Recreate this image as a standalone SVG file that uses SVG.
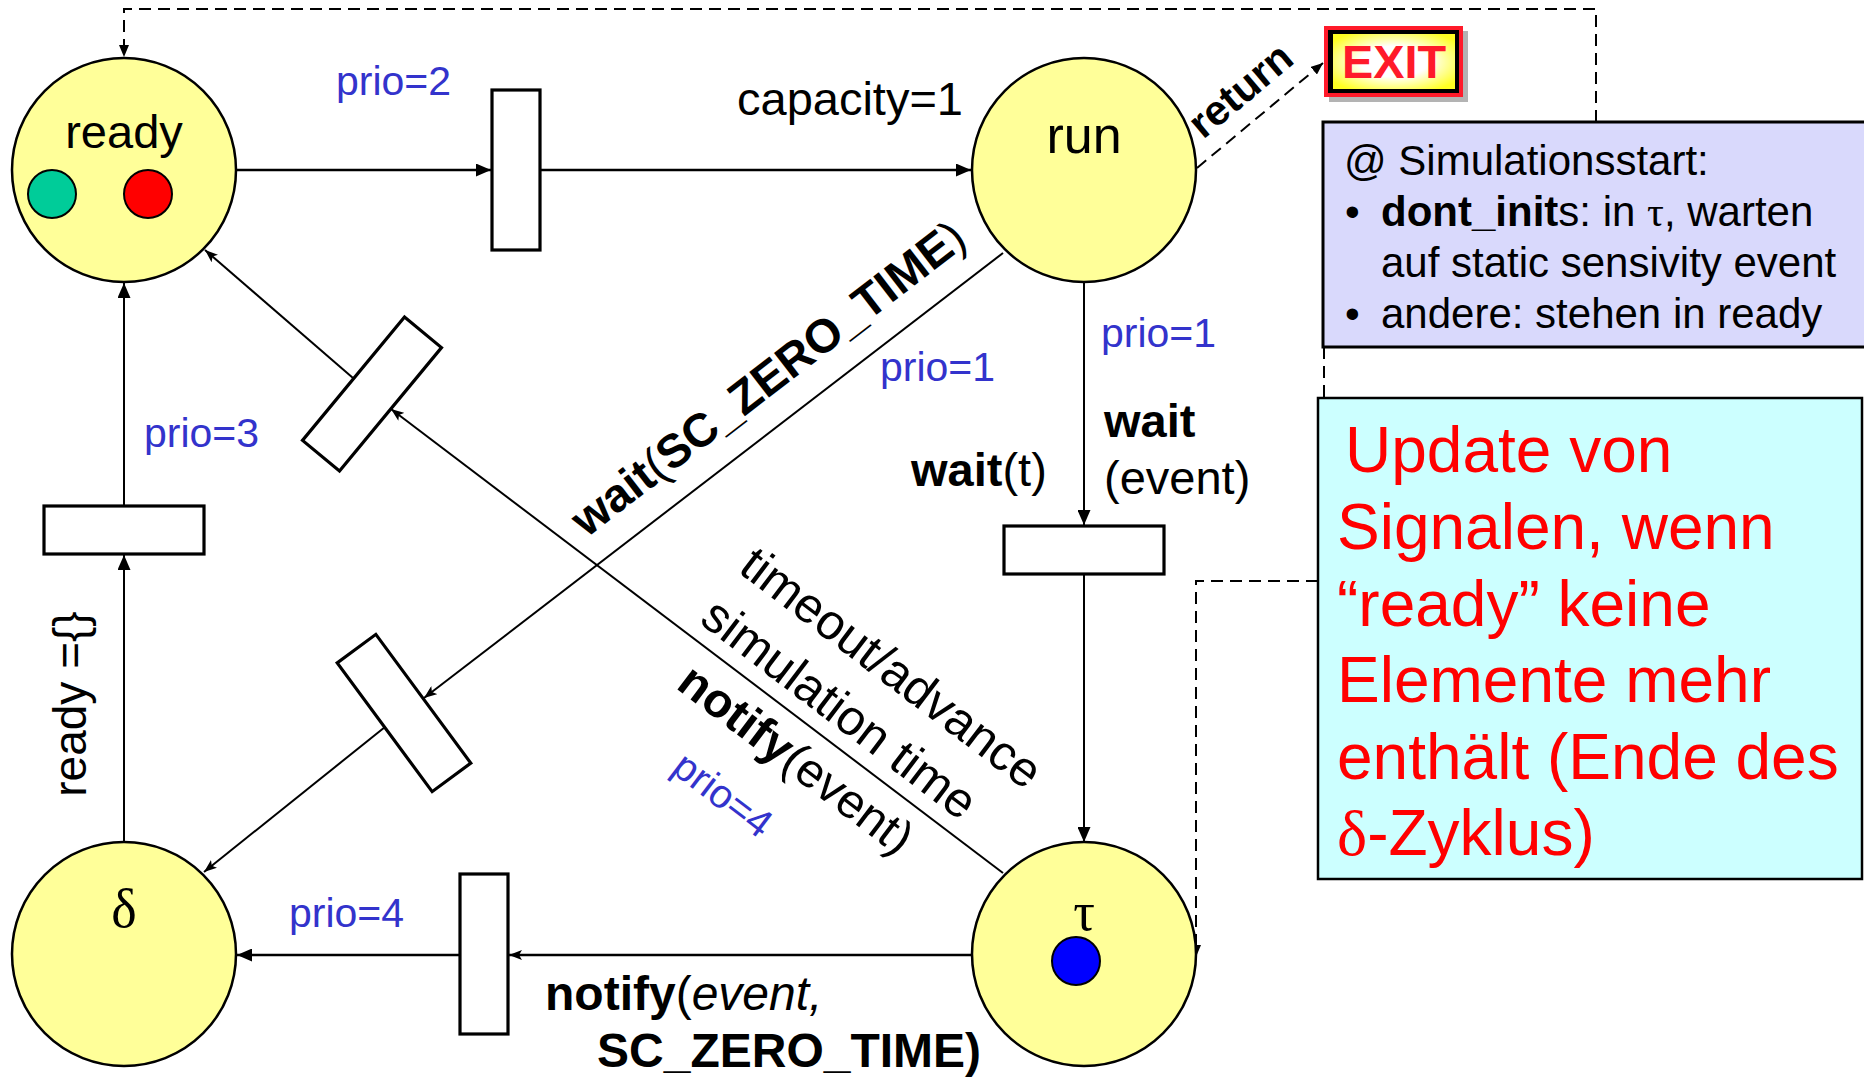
<svg xmlns="http://www.w3.org/2000/svg" width="1864" height="1079" viewBox="0 0 1864 1079">
<defs>
<style>
text{font-family:"Liberation Sans",Arial,sans-serif;fill:#000}
.place{fill:#FFFF99;stroke:#000;stroke-width:2.5}
.trans{fill:#fff;stroke:#000;stroke-width:3.2}
.arc{fill:none;stroke:#000;stroke-width:2.5}
.thin{fill:none;stroke:#000;stroke-width:2}
.dash{fill:none;stroke:#000;stroke-width:2;stroke-dasharray:12 7}
.lbl{font-size:47px}
.prio{font-size:41px;fill:#3333CC}
.b{font-weight:bold}
.i{font-style:italic}
.serif{font-family:"Liberation Serif","Times New Roman",serif}
.note{font-size:42px}
.red{font-size:64px;fill:#FF0000}
</style>
<marker id="ah" viewBox="0 0 15 13" refX="15" refY="6.5" markerWidth="15" markerHeight="13" markerUnits="userSpaceOnUse" orient="auto"><path d="M0,0 L15,6.5 L0,13 z" fill="#000"/></marker>
<marker id="ahs" viewBox="0 0 13 10" refX="13" refY="5" markerWidth="13" markerHeight="10" markerUnits="userSpaceOnUse" orient="auto"><path d="M0,0 L13,5 L0,10 L3,5 z" fill="#000"/></marker>
<marker id="ahd" viewBox="0 0 12 10" refX="12" refY="5" markerWidth="12" markerHeight="10" markerUnits="userSpaceOnUse" orient="auto"><path d="M0,0 L12,5 L0,10 z" fill="#000"/></marker>
<radialGradient id="exitg" cx="50%" cy="50%" r="62%"><stop offset="0.45" stop-color="#FFFFFF"/><stop offset="1" stop-color="#FFFF22"/></radialGradient>
</defs>
<rect width="1864" height="1079" fill="#fff"/>

<g id="connectors">
<path class="arc" d="M236,170 H491" marker-end="url(#ah)"/>
<path class="arc" d="M540,170 H971" marker-end="url(#ah)"/>
<path class="thin" d="M1084,282 V525" marker-end="url(#ah)"/>
<path class="thin" d="M1084,574 V842" marker-end="url(#ah)"/>
<path class="arc" d="M972,955 H509" marker-end="url(#ahs)"/>
<path class="arc" d="M460,955 H237" marker-end="url(#ah)"/>
<path class="thin" d="M124,842 V555" marker-end="url(#ah)"/>
<path class="thin" d="M124,506 V283" marker-end="url(#ah)"/>
<path class="thin" d="M1003,253 L424,698" marker-end="url(#ahs)"/>
<path class="thin" d="M385,727 L204,872" marker-end="url(#ahs)"/>
<path class="thin" d="M1003,873 L391,409" marker-end="url(#ahs)"/>
<path class="thin" d="M353,378 L205,250" marker-end="url(#ahs)"/>
<path class="dash" d="M1596,122 V9 H124 V57" marker-end="url(#ahd)"/>
<path class="dash" d="M1324,347 V398"/>
<path class="dash" d="M1318,581 H1196 V957" marker-end="url(#ahd)"/>
<path class="dash" d="M1197,168 L1323,63" stroke-dasharray="10 6" marker-end="url(#ahd)"/>
</g>

<g id="ready">
<circle class="place" cx="124" cy="170" r="112"/>
<text x="124" y="148" text-anchor="middle" style="font-size:47px">ready</text>
<circle cx="52" cy="194" r="24" fill="#00CC99" stroke="#000" stroke-width="2"/>
<circle cx="148" cy="194" r="24" fill="#FF0000" stroke="#000" stroke-width="2"/>
</g>
<g id="run">
<circle class="place" cx="1084" cy="170" r="112"/>
<text x="1084" y="153" text-anchor="middle" style="font-size:52px">run</text>
</g>
<g id="tau">
<circle class="place" cx="1084" cy="954" r="112"/>
<text x="1084" y="930" text-anchor="middle" class="serif" style="font-size:54px">τ</text>
<circle cx="1076" cy="961" r="24" fill="#0000FF" stroke="#000" stroke-width="2"/>
</g>
<g id="delta">
<circle class="place" cx="124" cy="954" r="112"/>
<text x="124" y="927" text-anchor="middle" class="serif" style="font-size:54px">δ</text>
</g>

<g id="t1"><rect class="trans" x="492" y="90" width="48" height="160"/></g>
<g id="t-wait"><rect class="trans" x="1004" y="526" width="160" height="48"/></g>
<g id="t4"><rect class="trans" x="460" y="874" width="48" height="160"/></g>
<g id="t3"><rect class="trans" x="44" y="506" width="160" height="48"/></g>
<g id="t2"><rect class="trans" x="-24" y="-80" width="48" height="160" transform="translate(404,713) rotate(-36.4)"/></g>
<g id="t5"><rect class="trans" x="-24" y="-80" width="48" height="160" transform="translate(372,394) rotate(39.6)"/></g>

<g id="labels">
<text class="prio" x="336" y="95">prio=2</text>
<text class="lbl" x="737" y="115">capacity=1</text>
<text class="prio" x="1101" y="347">prio=1</text>
<text class="lbl b" x="1104" y="437">wait</text>
<text class="lbl" x="1104" y="494">(event)</text>
<text class="lbl" x="911" y="486"><tspan class="b">wait</tspan>(t)</text>
<text class="prio" x="880" y="381">prio=1</text>
<text class="prio" x="144" y="447">prio=3</text>
<text class="lbl" transform="translate(86,704) rotate(-90)" text-anchor="middle" style="font-size:46px">ready ={}</text>
<text class="prio" x="289" y="927">prio=4</text>
<text class="lbl" x="545" y="1010" style="font-size:48px"><tspan class="b">notify</tspan>(<tspan class="i">event,</tspan></text>
<text class="lbl b" x="597" y="1067" style="font-size:48px">SC_ZERO_TIME)</text>
<g transform="translate(426,697) rotate(-37.6)">
<text x="224" y="-28" style="font-size:47px"><tspan class="b">wait</tspan>(<tspan class="b">SC_ZERO_TIME</tspan>)</text>
</g>
<g transform="translate(392,410) rotate(37.2)">
<text x="372" y="-80" style="font-size:49.5px">timeout/advance</text>
<text x="372" y="-16" style="font-size:49.5px">simulation time</text>
<text x="393" y="50" style="font-size:48px"><tspan class="b">notify</tspan>(event)</text>
<text x="440" y="120" class="prio" style="font-size:40px">prio=4</text>
</g>
<text class="b" transform="translate(1203,140) rotate(-40)" style="font-size:42px">return</text>
</g>

<g id="exit">
<rect x="1329" y="31" width="139" height="71" fill="#B3B3B3"/>
<rect x="1324" y="26" width="139" height="71" fill="#FF1A2A"/>
<rect x="1328" y="30" width="131" height="63" fill="#000"/>
<rect x="1333" y="34" width="122" height="55" fill="url(#exitg)"/>
<text x="1394" y="78" text-anchor="middle" class="b" textLength="104" lengthAdjust="spacingAndGlyphs" style="font-size:46px;fill:#FF1A2A">EXIT</text>
</g>

<g id="start-note">
<rect x="1323" y="122" width="545" height="225" fill="#D9D9FC" stroke="#000" stroke-width="3"/>
<text class="note" x="1344" y="175">@ Simulationsstart:</text>
<text class="note" x="1345" y="226">•</text>
<text class="note" x="1381" y="226"><tspan class="b">dont_init</tspan>s: in <tspan class="serif">τ</tspan>, warten</text>
<text class="note" x="1381" y="277">auf static sensivity event</text>
<text class="note" x="1345" y="328">•</text>
<text class="note" x="1381" y="328">andere: stehen in ready</text>
</g>

<g id="update-note">
<rect x="1318" y="398" width="544" height="481" fill="#CCFFFF" stroke="#000" stroke-width="2.5"/>
<text class="red" x="1345" y="472">Update von</text>
<text class="red" x="1337" y="549">Signalen, wenn</text>
<text class="red" x="1337" y="626">“ready” keine</text>
<text class="red" x="1337" y="702">Elemente mehr</text>
<text class="red" x="1337" y="779">enthält (Ende des</text>
<text class="red" x="1337" y="855"><tspan class="serif">δ</tspan>-Zyklus)</text>
</g>
</svg>
